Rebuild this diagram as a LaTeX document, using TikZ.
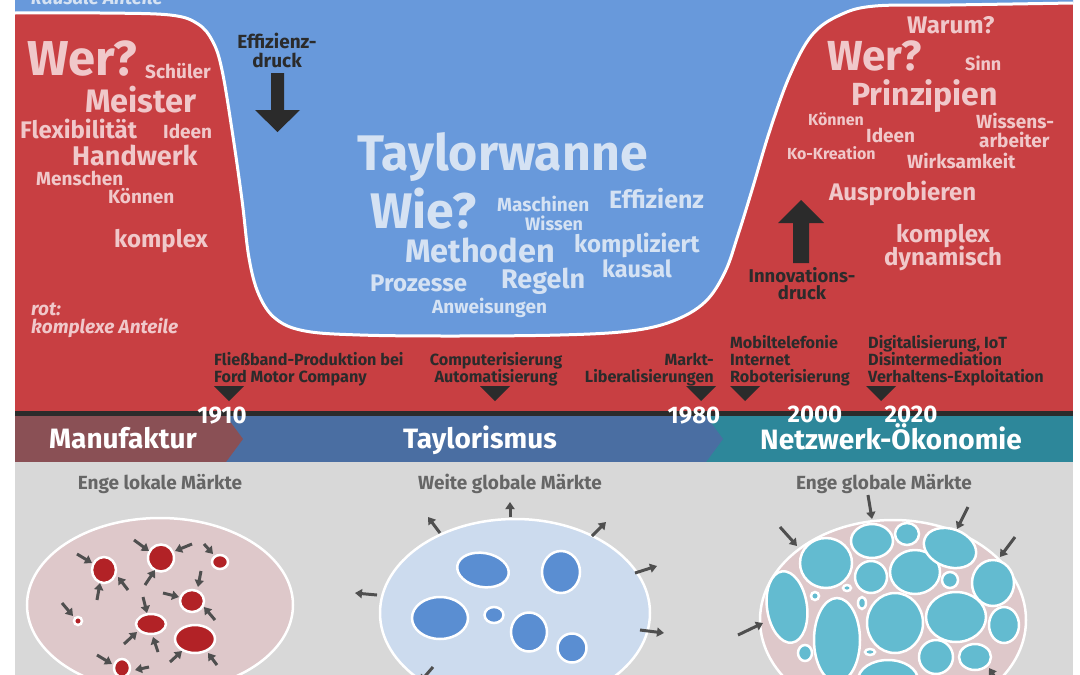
\documentclass[tikz,border=0pt]{standalone}
\usepackage{fontspec}
\setmainfont{Fira Sans}
\usetikzlibrary{arrows.meta}
\definecolor{redbg}{HTML}{C83F42}
\definecolor{bluebg}{HTML}{6899DB}
\definecolor{pinktxt}{HTML}{F0C8CA}
\definecolor{bluetxt}{HTML}{D5E2F3}
\definecolor{darktxt}{HTML}{2B2B2B}
\definecolor{bandA}{HTML}{8A5055}
\definecolor{bandB}{HTML}{4A6EA2}
\definecolor{bandC}{HTML}{2D879A}
\definecolor{panel}{HTML}{D8D8D8}
\definecolor{headtxt}{HTML}{666666}
\definecolor{pinkfill}{HTML}{DEC8CA}
\definecolor{redblob}{HTML}{B22226}
\definecolor{lightblue}{HTML}{CCDBEE}
\definecolor{blueblob}{HTML}{5A8ED2}
\definecolor{tealblob}{HTML}{63BBD0}
\definecolor{arrowc}{HTML}{4F4F4F}
\newcommand\fsz[1]{\fontsize{#1}{#1}\selectfont}
\tikzset{
  lbl/.style={anchor=base west, inner sep=0pt, font=\bfseries},
  pk/.style={lbl, text=pinktxt},
  bl/.style={lbl, text=bluetxt},
  dk/.style={lbl, text=darktxt, font=\bfseries\fsz{16.2}},
  dkc/.style={anchor=base, inner sep=0pt, font=\bfseries, text=darktxt},
  yr/.style={anchor=base, inner sep=0pt, text depth=0pt, font=\bfseries\fsz{24}, text=white},
  band/.style={anchor=base, inner sep=0pt, font=\bfseries\fsz{28}, text=white},
  head/.style={anchor=base, inner sep=0pt, font=\bfseries\fsz{19}, text=headtxt},
  blobr/.style={fill=redblob, draw=white, line width=2.5pt},
  blobb/.style={fill=blueblob, draw=white, line width=2.5pt},
  blobt/.style={fill=tealblob, draw=white, line width=2.5pt},
  arr/.style={draw=arrowc, line width=3pt, -{Triangle[length=7pt,width=9pt]}},
  tri/.style={fill=darktxt},
}
\begin{document}
\begin{tikzpicture}[x=1pt,y=-1pt]
\useasboundingbox (0,0) rectangle (1080,675);
\clip (0,0) rectangle (1080,675);
\fill[white] (0,0) rectangle (1080,675);
% upper area
\fill[redbg] (15,0) rectangle (1073,412);
\fill[bluebg] (1073,0) -- (15,0) -- plot[smooth, tension=0.6] coordinates {(15,13) (100,13) (170,15) (198,24) (213,42) (222,70) (232,130) (242,200) (249,258) (259,295) (276,319) (305,331) (360,335) (450,336) (560,335) (630,331) (673,321) (705,302) (725,272) (738,235) (752,190) (770,130) (790,75) (812,35) (840,15) (875,6) (950,5) (1073,3)} -- cycle;
\draw[white, line width=3pt] plot[smooth, tension=0.6] coordinates {(15,13) (100,13) (170,15) (198,24) (213,42) (222,70) (232,130) (242,200) (249,258) (259,295) (276,319) (305,331) (360,335) (450,336) (560,335) (630,331) (673,321) (705,302) (725,272) (738,235) (752,190) (770,130) (790,75) (812,35) (840,15) (875,6) (950,5) (1073,3)};
% timeline
\fill[darktxt] (15,411) rectangle (1073,416);
\fill[bandC] (15,416) rectangle (1073,462);
\fill[bandB] (15,416) -- (706,416) -- (723,439) -- (706,462) -- (15,462) -- cycle;
\fill[bandA] (15,416) -- (226,416) -- (243,439) -- (226,462) -- (15,462) -- cycle;
\fill[panel] (15,462) rectangle (1073,675);

% left words
\node[bl] (kaus) at (31,4) {\fsz{19}\itshape kausale Anteile};
\node[pk] (wer1) at (27,75) {\fsz{49}Wer?};
\node[pk] (schueler) at (145,78) {\fsz{19}Schüler};
\node[pk] (meister) at (85,112) {\fsz{32.5}Meister};
\node[pk] (flex) at (20,138) {\fsz{24}Flexibilität};
\node[pk] (ideen1) at (163,138) {\fsz{19}Ideen};
\node[pk] (handw) at (72,165) {\fsz{27}Handwerk};
\node[pk] (menschen) at (36,185) {\fsz{19}Menschen};
\node[pk] (koennen1) at (108,203) {\fsz{19}Können};
\node[pk] (kompl1) at (114,247) {\fsz{24}komplex};
\node[pk] (rot) at (31,315) {\fsz{19}\itshape rot:};
\node[pk] (kanteile) at (31,333) {\fsz{19}\itshape komplexe Anteile};
% Effizienzdruck
\node[dkc] (eff1) at (277,48) {\fsz{19}Effizienz-};
\node[dkc] (eff2) at (277,67) {\fsz{19}druck};
\fill[darktxt] (271,73) -- (284,73) -- (284,110) -- (300,110) -- (277.5,132) -- (255,110) -- (271,110) -- cycle;
% blue words
\node[bl] (taylor) at (357,170) {\fsz{50}Taylorwanne};
\node[bl] (wie) at (370,228) {\fsz{50}Wie?};
\node[bl] (masch) at (497,211) {\fsz{19}Maschinen};
\node[bl] (effiz) at (609,208) {\fsz{25}Effizienz};
\node[bl] (wissen) at (525,230) {\fsz{18}Wissen};
\node[bl, text depth=0pt] (method) at (405,262) {\fsz{32.5}Methoden};
\node[bl] (komplz) at (574,252) {\fsz{24}kompliziert};
\node[bl] (kausal) at (602,277) {\fsz{23.5}kausal};
\node[bl] (prozess) at (370,291) {\fsz{24}Prozesse};
\node[bl] (regeln) at (501,288) {\fsz{27}Regeln};
\node[bl] (anweis) at (432,313) {\fsz{19}Anweisungen};
% right words
\node[pk] (warum) at (907,33) {\fsz{24}Warum?};
\node[pk] (wer2) at (827,70) {\fsz{42}Wer?};
\node[pk] (sinn) at (965,70) {\fsz{18}Sinn};
\node[pk] (prinz) at (851,105) {\fsz{32}Prinzipien};
\node[pk] (koennen2) at (808,125) {\fsz{16}Können};
\node[pk] (ideen2) at (866,142) {\fsz{19}Ideen};
\node[pk] (wiss1) at (976,128) {\fsz{19}Wissens-};
\node[pk] (wiss2) at (979,147) {\fsz{19}arbeiter};
\node[pk] (kokre) at (787,159) {\fsz{16}Ko-Kreation};
\node[pk] (wirks) at (907,168) {\fsz{19}Wirksamkeit};
\node[pk] (auspr) at (829,200) {\fsz{24}Ausprobieren};
\node[pk] (kompl2) at (896,242) {\fsz{24}komplex};
\node[pk] (dyn) at (884,265) {\fsz{24}dynamisch};
% Innovationsdruck
\fill[darktxt] (801,200) -- (824,223) -- (809,223) -- (809,263) -- (793,263) -- (793,223) -- (778,223) -- cycle;
\node[dkc] (inno1) at (802,282) {\fsz{18.5}Innovations-};
\node[dkc] (inno2) at (802,299) {\fsz{18.5}druck};
% timeline labels
\node[dk] (ev1a) at (214,365) {Fließband-Produktion bei};
\node[dk] (ev1b) at (214,382) {Ford Motor Company};
\node[dk, anchor=base] (ev2a) at (496,365) {Computerisierung};
\node[dk, anchor=base] (ev2b) at (496,382) {Automatisierung};
\node[dk, anchor=base east] (ev3a) at (714,365) {Markt-};
\node[dk, anchor=base east] (ev3b) at (714,382) {Liberalisierungen};
\node[dk] (ev4a) at (730,348) {Mobiltelefonie};
\node[dk] (ev4b) at (730,365) {Internet};
\node[dk] (ev4c) at (730,382) {Roboterisierung};
\node[dk] (ev5a) at (868,348) {Digitalisierung, IoT};
\node[dk] (ev5b) at (868,365) {Disintermediation};
\node[dk] (ev5c) at (868,382) {Verhaltens-Exploitation};
\foreach \t in {229,495,701,745,881}{
  \fill[tri] (\t-15,386) -- (\t+15,386) -- (\t,401) -- cycle;
}
\node[yr] (y1910) at (222,423) {1910};
\node[yr] (y1980) at (694,423) {1980};
\node[yr] (y2000) at (815,422) {2000};
\node[yr] (y2020) at (911,422) {2020};
\node[band] (manuf) at (123,448) {Manufaktur};
\node[band] (taylm) at (480,448) {Taylorismus};
\node[band] (netz) at (891,449) {Netzwerk-Ökonomie};
% headers
\node[head] (h1) at (160,489) {Enge lokale Märkte};
\node[head] (h2) at (510,489) {Weite globale Märkte};
\node[head] (h3) at (884,489) {Enge globale Märkte};

% left market
\filldraw[fill=pinkfill, draw=white, line width=2.5pt] (160,605) ellipse [x radius=133, y radius=87];
\foreach \a/\b/\c/\d in {104/570/12/13, 161/558/13/13.5, 220/562/8/7, 192/601/12/11, 78/621/4/4, 151/624/15/10, 195/639/20/14, 122/668/8/9}{
  \filldraw[blobr] (\a,\b) ellipse [x radius=\c, y radius=\d];
}
\foreach \a/\b/\c/\d in {77/554/92/563, 97/600/100/583, 128/590/118/577, 134/540/149/551, 192/544/175/551, 145/585/155/570, 204/544/213/554, 201/571/198/587, 163/593/179/597, 215/620/204/607, 62/603/73/616, 143/597/147/613, 124/644/137/632, 158/652/153/637, 170/662/182/651, 217/665/208/653, 97/655/112/664, 149/667/135/670}{
  \draw[arr] (\a,\b) -- (\c,\d);
}
% middle market
\filldraw[fill=lightblue, draw=white, line width=2.5pt] (515,613) ellipse [x radius=135, y radius=94];
\filldraw[blobb, rotate around={-10:(483,570)}] (483,570) ellipse [x radius=26, y radius=17];
\foreach \a/\b/\c/\d in {561/572/19/21, 440/618/28/21, 494/615/9.5/8, 529/632/18/19.5, 572/648/14.5/14.5}{
  \filldraw[blobb] (\a,\b) ellipse [x radius=\c, y radius=\d];
}
\foreach \a/\b/\c/\d in {440/533/428/517, 510/517/510/502, 592/536/606/522, 635/573/657/566, 640/630/664/633, 377/595/355/593, 433/667/420/682}{
  \draw[arr] (\a,\b) -- (\c,\d);
}
% right market
\filldraw[fill=pinkfill, draw=white, line width=2.5pt] (893,620) ellipse [x radius=133, y radius=100];
\foreach \a/\b/\c/\d in {826/563/26/25, 872/541/21/17, 907/534/12/11, 993/583/21/23, 871/577/16/16, 915/572/25/22, 950/580/8/8, 815/596/4/4, 847/588/4/3, 862/603/4/6, 837/640/23/42, 895/623/28/30, 956/617/30/25, 1004/625/15/18, 805/653/7/8, 870/652/5/3, 888/680/30/20, 936/657/17/17, 975/657/16/13}{
  \filldraw[blobt] (\a,\b) ellipse [x radius=\c, y radius=\d];
}
\filldraw[blobt, rotate around={-20:(950,548)}] (950,548) ellipse [x radius=27, y radius=19];
\filldraw[blobt, rotate around={8:(787,607)}] (787,607) ellipse [x radius=20, y radius=36];
\foreach \a/\b/\c/\d in {780/527/797/546, 868/495/872/519, 968/507/957/529, 1015/537/1000/557, 738/635/763/623, 1000/685/989/668}{
  \draw[arr] (\a,\b) -- (\c,\d);
}
\end{tikzpicture}
\end{document}
